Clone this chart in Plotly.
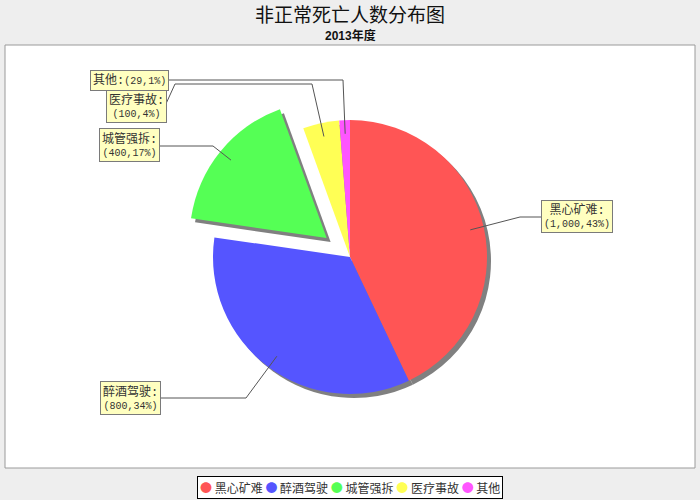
import math

import plotly.graph_objects as go

# chart data
categories = ["黑心矿难", "醉酒驾驶", "城管强拆", "医疗事故", "其他"]
deaths = [1000, 800, 400, 100, 29]
pulls = [0, 0, 0.22, 0, 0]
colors = ["#FF5555", "#5555FF", "#55FF55", "#FFFF55", "#FF55FF"]

title = "非正常死亡人数分布图"
subtitle = "2013年度"

# page / pie geometry in pixels
W, H = 700, 500
CX, CY, R = 350, 257, 137
SHADOW = 4

# label boxes: centre in px, whether the label is wrapped, leader waypoints (px)
label_boxes = {
    "黑心矿难": ((577, 217), True, [(542, 217), (520, 217)]),
    "醉酒驾驶": ((130, 398), True, [(160, 398), (246, 398)]),
    "城管强拆": ((129, 145), True, [(158, 146), (213, 146)]),
    "医疗事故": ((136, 106), True, [(165, 106), (175, 84), (312, 84)]),
    "其他": ((129, 80), False, [(166, 80), (343, 80)]),
}

CJK = "Noto Sans CJK SC"
MONO = "Liberation Mono, " + CJK


def px(x, y):
    return x / W, 1 - y / H


def pie_domain(dx=0, dy=0):
    side = 2 * R * (1 + max(pulls))
    x0, y1 = px(CX + dx - side / 2, CY + dy - side / 2)
    x1, y0 = px(CX + dx + side / 2, CY + dy + side / 2)
    return dict(x=[x0, x1], y=[y0, y1])


def note(x, y, text, **kw):
    ax, ay = px(x, y)
    return dict(x=ax, y=ay, xref="paper", yref="paper", text=text, showarrow=False,
                xanchor="center", yanchor="middle", **kw)


fig = go.Figure()

# grey drop shadow, then the pie itself
fig.add_trace(go.Pie(
    labels=categories, values=deaths, pull=pulls, sort=False,
    direction="clockwise", rotation=0, textinfo="none", hoverinfo="skip",
    marker=dict(colors=["#808080"] * len(deaths), line=dict(width=0)),
    domain=pie_domain(SHADOW, SHADOW), showlegend=False,
))
fig.add_trace(go.Pie(
    labels=categories, values=deaths, pull=pulls, sort=False,
    direction="clockwise", rotation=0, textinfo="none",
    marker=dict(colors=colors, line=dict(width=0)),
    domain=pie_domain(), showlegend=False,
))

shapes = []
annotations = []

# white plot area with grey border
x0, y0 = px(5, 468)
x1, y1 = px(695, 45)
shapes.append(dict(type="rect", xref="paper", yref="paper", x0=x0, y0=y0, x1=x1, y1=y1,
                   fillcolor="white", line=dict(color="#9A9A9A", width=1), layer="below"))

# section labels with leader lines
total = sum(deaths)
before = 0
for name, v, pull in zip(categories, deaths, pulls):
    mid = math.radians((before + v / 2) / total * 360)
    before += v
    dist = (pull + 0.9) * R
    anchor = (CX + dist * math.sin(mid), CY - dist * math.cos(mid))
    pct = round(v / total * 100)
    (bx, by), wrap, pts = label_boxes[name]
    sep = "<br>" if wrap else ""
    text = f'<span style="font-size:12px">{name}:</span>{sep}({v:,},{pct}%)'
    annotations.append(note(
        bx, by, text,
        font=dict(family=MONO, size=10, color="#333333"),
        bgcolor="#FFFFC0", bordercolor="#7A7A7A", borderwidth=1, borderpad=2,
    ))
    path = ""
    for i, (x, y) in enumerate(pts + [anchor]):
        qx, qy = px(x, y)
        path += ("M" if i == 0 else " L") + f"{qx:.5f},{qy:.5f}"
    shapes.append(dict(type="path", xref="paper", yref="paper", path=path,
                       line=dict(color="#555555", width=1)))

# title and subtitle
annotations.append(note(350, 13, title, font=dict(family=CJK, size=19, color="#111111")))
annotations.append(note(350, 35, f"<b>{subtitle}</b>",
                        font=dict(family="Liberation Sans, " + CJK, size=12, color="#111111")))

# legend drawn as one boxed line of text
items = [f'<span style="color:{c};font-size:12px">●</span> {n}' for n, c in zip(categories, colors)]
annotations.append(note(350, 487, " ".join(items),
                        font=dict(family=CJK, size=12, color="#333333"),
                        bgcolor="white", bordercolor="black", borderwidth=1, borderpad=2))

fig.update_layout(
    width=W, height=H,
    margin=dict(l=0, r=0, t=0, b=0),
    paper_bgcolor="#EEEEEE",
    shapes=shapes,
    annotations=annotations,
    showlegend=False,
)

fig.write_html("out.html", config={"displayModeBar": False},
               post_script="document.body.style.margin = '0';")
